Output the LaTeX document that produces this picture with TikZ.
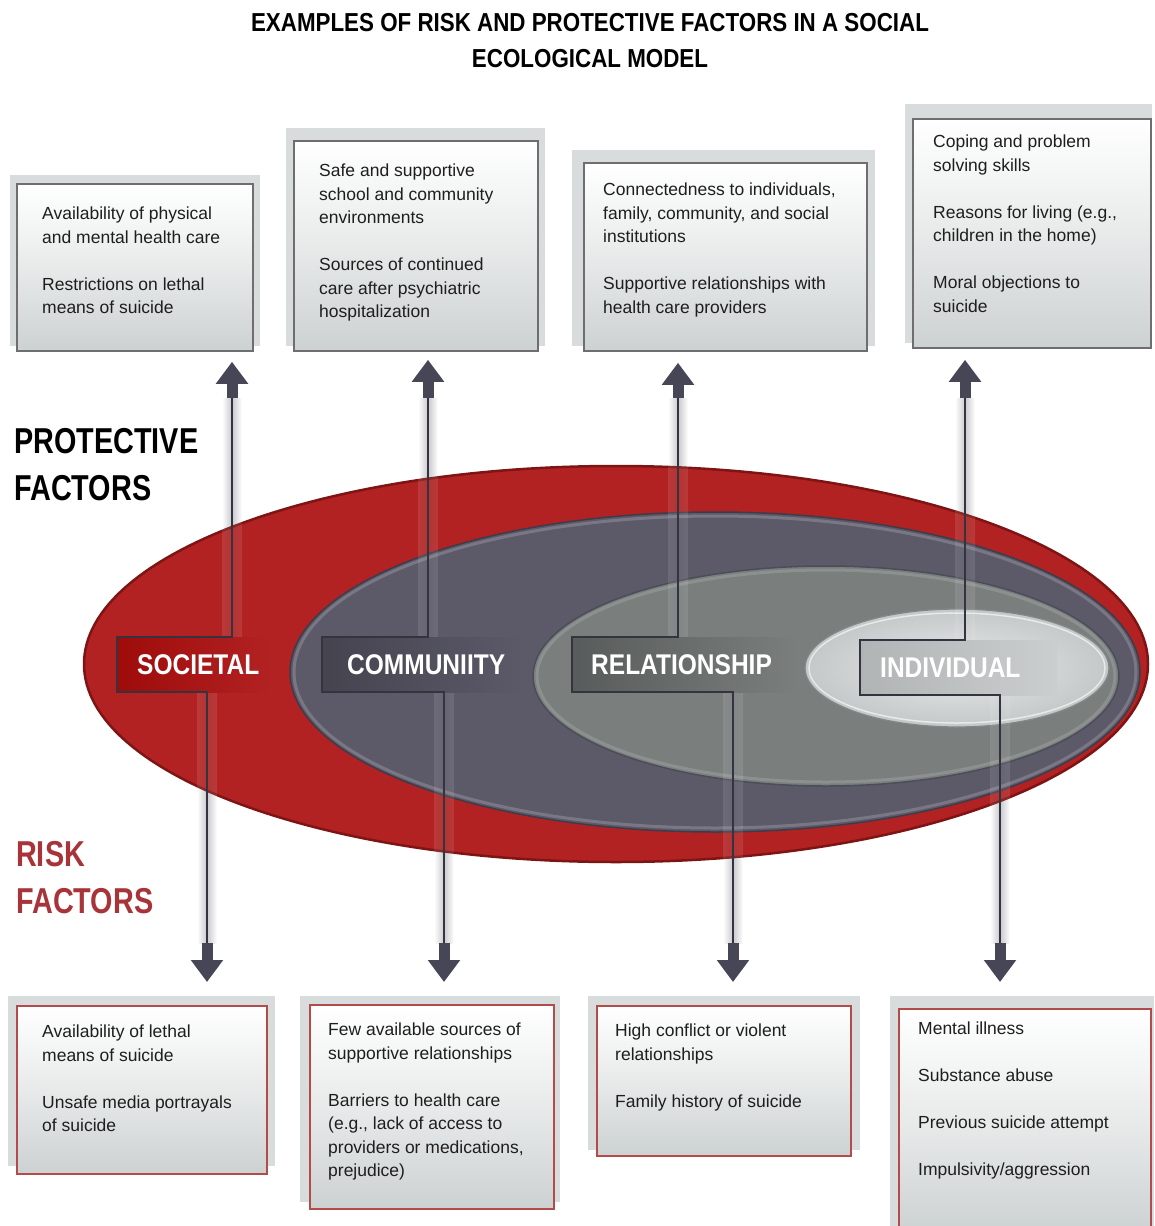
\documentclass[tikz,border=0pt]{standalone}
\usepackage{fontspec}
\setmainfont{Liberation Sans}
\newfontfamily\condA[FakeStretch=0.86]{Liberation Sans}
\newfontfamily\condB[FakeStretch=0.8]{Liberation Sans}
\usetikzlibrary{arrows.meta,calc}
\definecolor{redE}{HTML}{B22222}
\definecolor{redL}{HTML}{9E0B0B}
\definecolor{redRim}{HTML}{7E1414}
\definecolor{comE}{HTML}{5C5A69}
\definecolor{comRim}{HTML}{3E3C4A}
\definecolor{relE}{HTML}{7A7F7E}
\definecolor{relRim}{HTML}{4A4E58}
\definecolor{indE}{HTML}{D5D9D9}
\definecolor{indRim}{HTML}{7F8787}
\definecolor{lineC}{HTML}{34343F}
\definecolor{arrowC}{HTML}{464657}
\definecolor{txtC}{HTML}{1E1E1E}
\definecolor{protB}{HTML}{6E6E6E}
\definecolor{riskB}{HTML}{B44B4B}
\definecolor{backC}{HTML}{D8DCDC}
\definecolor{boxBot}{HTML}{CCD1D1}
\definecolor{riskT}{HTML}{A8343A}
\definecolor{glowC}{HTML}{C9C9CE}
\begin{document}
\begin{tikzpicture}[x=1pt,y=-1pt,
  backd/.style={fill=backC},
  protbox/.style={draw=protB, line width=1.8pt, top color=white, bottom color=boxBot, middle color=white!55!boxBot, minimum width=#1, anchor=north west, inner sep=0pt},
  riskbox/.style={draw=riskB, line width=1.6pt, top color=white, bottom color=boxBot, middle color=white!55!boxBot, minimum width=#1, anchor=north west, inner sep=0pt},
  bodytext/.style={anchor=north west, inner sep=0pt, align=left, text=txtC, font=\fontsize{17.5}{23.5}\selectfont},
  lab/.style={anchor=north west, inner sep=0pt, minimum height=55pt, text width=#1, align=left, text=white, font=\condA\bfseries\fontsize{28.5}{30}\selectfont},
  conn/.style={draw=lineC, line width=2pt, line join=miter},
  shaft/.style={draw=arrowC, line width=11pt, -{Triangle[width=31pt,length=22pt]}},
  glow/.style={left color=white, right color=white, middle color=glowC},
  sidetitle/.style={anchor=north west, inner sep=0pt, align=left, font=\condB\bfseries\fontsize{36}{47}\selectfont}
]
\useasboundingbox (0,0) rectangle (1154,1226);
\fill[white] (0,0) rectangle (1154,1226);

% title
\node (title) [anchor=north, inner sep=0pt, align=center, font=\condA\bfseries\fontsize{26}{36}\selectfont, text=black]
  at (590,12) {\rule{0pt}{19pt}EXAMPLES OF RISK AND PROTECTIVE FACTORS IN A SOCIAL\\ECOLOGICAL MODEL};

% protective boxes
\fill[backd] (10,175) rectangle (260,346);
\node[protbox=236pt, minimum height=167pt] (p1) at (16,183) {};
\fill[backd] (286,128) rectangle (545,346);
\node[protbox=244pt, minimum height=210pt] (p2) at (293,140) {};
\fill[backd] (572,150) rectangle (875,346);
\node[protbox=283pt, minimum height=188pt] (p3) at (583,162) {};
\fill[backd] (905,104) rectangle (1152,343);
\node[protbox=238pt, minimum height=229pt] (p4) at (912,118) {};

% risk boxes
\fill[backd] (8,996) rectangle (275,1166);
\node[riskbox=250pt, minimum height=168pt] (r1) at (16,1005) {};
\fill[backd] (300,996) rectangle (560,1202);
\node[riskbox=244pt, minimum height=204pt] (r2) at (309,1004) {};
\fill[backd] (588,996) rectangle (860,1150);
\node[riskbox=254pt, minimum height=150pt] (r3) at (596,1005) {};
\fill[backd] (890,996) rectangle (1154,1232);
\node[riskbox=252pt, minimum height=226pt] (r4) at (898,1008) {};

% coordinates of connector ends
\coordinate (uS) at (232,398); \coordinate (dS) at (207,943);
\coordinate (uC) at (428,398); \coordinate (dC) at (444,943);
\coordinate (uR) at (678,398); \coordinate (dR) at (733,943);
\coordinate (uI) at (965,398); \coordinate (dI) at (1000,943);

% glow bands (outside)
\foreach \x/\a/\b in {232/398/640, 207/690/943, 428/398/640, 444/690/943, 678/398/640, 733/690/943, 965/398/640, 1000/690/943}
  \shade[glow] (\x-10,\a) rectangle (\x+10,\b);

% ellipses
\draw[fill=redE, draw=redRim, line width=2.5pt] (616,664) ellipse [x radius=532pt, y radius=198pt];
\draw[fill=comE, draw=comRim, line width=1.5pt] (715,672) ellipse [x radius=425pt, y radius=160pt];
\draw[draw=white!30!comE, line width=3pt, opacity=.6] (715,672) ellipse [x radius=421pt, y radius=156pt];
\draw[fill=relE, draw=relRim, line width=1.5pt] (826,676) ellipse [x radius=293pt, y radius=110pt];
\draw[draw=white!20!relE, line width=3pt, opacity=.7] (826,676) ellipse [x radius=289pt, y radius=106pt];
\shade[inner color=white!45!indE, outer color=indE!92!black] (957,668) ellipse [x radius=152pt, y radius=59pt];
\draw[draw=indRim, line width=1.3pt] (957,668) ellipse [x radius=152pt, y radius=59pt];
\draw[draw=white, line width=1.5pt, opacity=.6] (957,668) ellipse [x radius=148pt, y radius=55pt];

% glow bands (inside, translucent)
\foreach \x/\a/\b in {232/398/640, 207/690/943, 428/398/640, 444/690/943, 678/398/640, 733/690/943, 965/398/640, 1000/690/943}
  \shade[glow, opacity=.1] (\x-10,\a) rectangle (\x+10,\b);

% level labels
\node[lab=153pt, left color=redL, right color=redE] (soc) at (117,637) {\hspace*{20pt}SOCIETAL};
\node[lab=203pt, left color=comE!75!black, right color=comE] (com) at (322,637) {\hspace*{25pt}COMMUNIITY};
\node[lab=225pt, left color=relE!72!black, right color=relE] (rel) at (572,637) {\hspace*{19pt}RELATIONSHIP};
\node[lab=197pt, left color=indE!83!black, right color=indE!95!black] (ind) at (860,640) {\hspace*{20pt}INDIVIDUAL};

% connectors
\draw[conn] (uS) -- (uS |- soc.north) -- (soc.north west) -- (soc.south west) -- (dS |- soc.south) -- (dS);
\draw[conn] (uC) -- (uC |- com.north) -- (com.north west) -- (com.south west) -- (dC |- com.south) -- (dC);
\draw[conn] (uR) -- (uR |- rel.north) -- (rel.north west) -- (rel.south west) -- (dR |- rel.south) -- (dR);
\draw[conn] (uI) -- (uI |- ind.north) -- (ind.north west) -- (ind.south west) -- (dI |- ind.south) -- (dI);

% arrows
\draw[shaft] (uS) -- ($(uS |- p1.south)+(0,10)$);
\draw[shaft] (uC) -- ($(uC |- p2.south)+(0,8)$);
\draw[shaft] (uR) -- ($(uR |- p3.south)+(0,11)$);
\draw[shaft] (uI) -- ($(uI |- p4.south)+(0,11)$);
\draw[shaft] (dS) -- ($(dS |- r1.north)+(0,-23)$);
\draw[shaft] (dC) -- ($(dC |- r2.north)+(0,-22)$);
\draw[shaft] (dR) -- ($(dR |- r3.north)+(0,-23)$);
\draw[shaft] (dI) -- ($(dI |- r4.north)+(0,-26)$);

% side titles
\node[sidetitle, text=black] (prot) at (14,427) {\rule{0pt}{26pt}PROTECTIVE\\FACTORS};
\node[sidetitle, text=riskT] (risk) at (16,840) {\rule{0pt}{26pt}RISK\\FACTORS};

% box texts
\node[bodytext] (tp1) at (42,206.5) {\rule{0pt}{13pt}Availability of physical\\and mental health care\\[23.5pt]Restrictions on lethal\\means of suicide};
\node[bodytext] (tp2) at (319,163.5) {\rule{0pt}{13pt}Safe and supportive\\school and community\\environments\\[23.5pt]Sources of continued\\care after psychiatric\\hospitalization};
\node[bodytext] (tp3) at (603,182.5) {\rule{0pt}{13pt}Connectedness to individuals,\\family, community, and social\\institutions\\[23.5pt]Supportive relationships with\\health care providers};
\node[bodytext] (tp4) at (933,134.5) {\rule{0pt}{13pt}Coping and problem\\solving skills\\[23.5pt]Reasons for living (e.g.,\\children in the home)\\[23.5pt]Moral objections to\\suicide};

\node[bodytext] (tr1) at (42,1024.5) {\rule{0pt}{13pt}Availability of lethal\\means of suicide\\[23.5pt]Unsafe media portrayals\\of suicide};
\node[bodytext] (tr2) at (328,1022.5) {\rule{0pt}{13pt}Few available sources of\\supportive relationships\\[23.5pt]Barriers to health care\\(e.g., lack of access to\\providers or medications,\\prejudice)};
\node[bodytext] (tr3) at (615,1023.5) {\rule{0pt}{13pt}High conflict or violent\\relationships\\[23.5pt]Family history of suicide};
\node[bodytext] (tr4) at (918,1021.5) {\rule{0pt}{13pt}Mental illness\\[23.5pt]Substance abuse\\[23.5pt]Previous suicide attempt\\[23.5pt]Impulsivity/aggression};
\end{tikzpicture}
\end{document}
